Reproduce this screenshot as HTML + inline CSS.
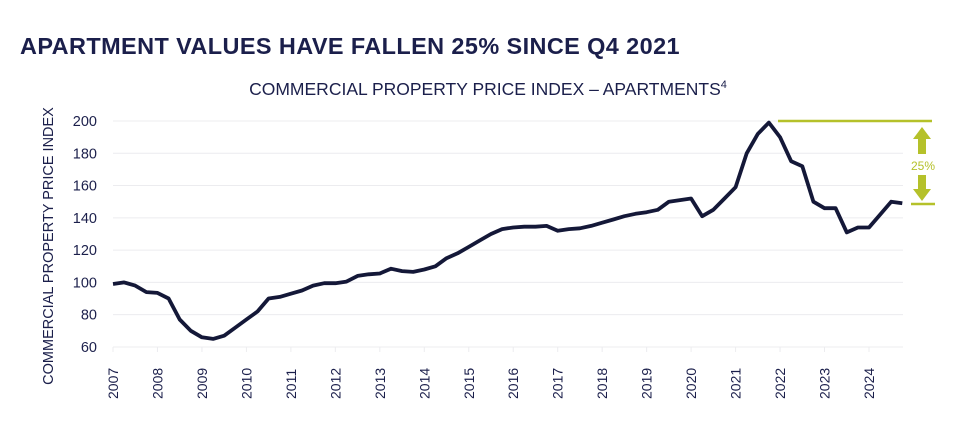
<!DOCTYPE html>
<html><head><meta charset="utf-8"><style>
body{margin:0;background:#fff;width:960px;height:429px;overflow:hidden;font-family:"Liberation Sans",sans-serif;}
</style></head><body>
<svg id="s" width="960" height="429" xmlns="http://www.w3.org/2000/svg" font-family="Liberation Sans, sans-serif">
<text x="20" y="54" font-size="23.5" font-weight="bold" fill="#1b1f4b" letter-spacing="0.4" textLength="660" lengthAdjust="spacingAndGlyphs">APARTMENT VALUES HAVE FALLEN 25% SINCE Q4 2021</text>
<text x="488" y="95" font-size="17.5" fill="#1b1f4b" text-anchor="middle">COMMERCIAL PROPERTY PRICE INDEX – APARTMENTS<tspan font-size="11" dy="-7">4</tspan></text>
<text transform="translate(53,246) rotate(-90)" font-size="14.5" fill="#1b1f4b" text-anchor="middle">COMMERCIAL PROPERTY PRICE INDEX</text>
<g id="grid"></g>
<line x1="778" y1="121" x2="932" y2="121" stroke="#b5c12a" stroke-width="2.5"/>
<line x1="911" y1="204" x2="935" y2="204" stroke="#b5c12a" stroke-width="2.5"/>
<polygon points="922,127 931,139 926,139 926,154 918,154 918,139 913,139" fill="#b5c12a"/>
<polygon points="922,201 931,189 926,189 926,175 918,175 918,189 913,189" fill="#b5c12a"/>
<text x="923" y="170" font-size="12" fill="#b5c12a" text-anchor="middle">25%</text>
<path id="line" fill="none" stroke="#141838" stroke-width="3.8" stroke-linejoin="round"/>
</svg>
<script>
var d=[99,100,98,94,93.5,90,77,70,66,65,67,72,77,82,90,91,93,95,98,99.5,99.5,100.5,104,105,105.5,108.5,107,106.5,108,110,115,118,122,126,130,133,134,134.5,134.5,135,132,133,133.5,135,137,139,141,142.5,143.5,145,150,151,152,141,145,152,159,180,192,199,190,175,172,150,146,146,131,134,134,142,150,149];
function X(t){return 113+t*44.47}function Y(v){return 121+(200-v)*1.614}
var g='';
for(var v=60;v<=200;v+=20){var y=Y(v);g+='<line x1="113" x2="903" y1="'+y+'" y2="'+y+'" stroke="#ececef" stroke-width="1"/><text x="97" y="'+(y+5)+'" font-size="14.5" fill="#1b1f4b" text-anchor="end">'+v+'</text>';}
for(var yr=0;yr<=17;yr++){var x=X(yr);g+='<line x1="'+x+'" x2="'+x+'" y1="347" y2="352" stroke="#ececef"/><text transform="translate('+(x+5)+',399) rotate(-90)" font-size="14" fill="#1b1f4b">'+(2007+yr)+'</text>';}
document.getElementById('grid').innerHTML=g;
var p='';for(var i=0;i<d.length;i++){p+=(i?'L':'M')+X(i/4).toFixed(1)+','+Y(d[i]).toFixed(1);}
document.getElementById('line').setAttribute('d',p);
</script>
</body></html>
